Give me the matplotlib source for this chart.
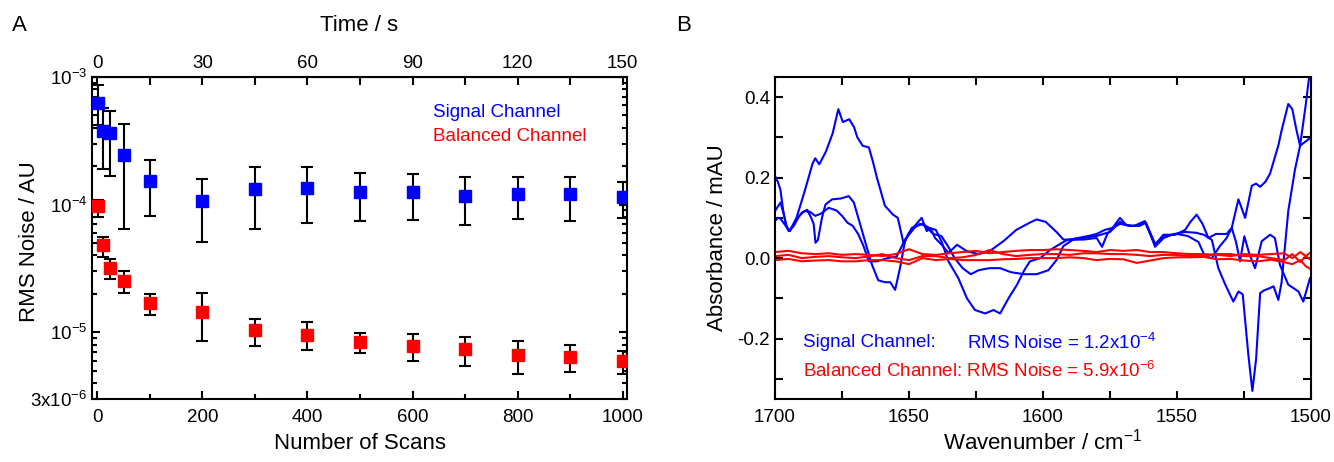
import numpy as np
import matplotlib.pyplot as plt
from matplotlib.ticker import FixedLocator, MultipleLocator, NullFormatter

plt.rcParams['font.family'] = ['Liberation Sans', 'DejaVu Sans']
plt.rcParams['mathtext.fontset'] = 'custom'
plt.rcParams['mathtext.rm'] = 'Liberation Sans'
plt.rcParams['mathtext.it'] = 'Liberation Sans'

# ---- panel A data: RMS noise vs number of scans ----
scans = [1, 10, 25, 50, 100, 200, 300, 400, 500, 600, 700, 800, 900, 1000]
sig_noise = [6.3e-4, 3.8e-4, 3.62e-4, 2.45e-4, 1.53e-4, 1.06e-4, 1.32e-4, 1.34e-4,
             1.26e-4, 1.26e-4, 1.17e-4, 1.22e-4, 1.22e-4, 1.15e-4]
sig_hi = [8.7e-4, 5.7e-4, 5.4e-4, 4.28e-4, 2.24e-4, 1.59e-4, 1.98e-4, 1.96e-4,
          1.77e-4, 1.74e-4, 1.66e-4, 1.64e-4, 1.66e-4, 1.50e-4]
sig_lo = [4.2e-4, 1.9e-4, 1.69e-4, 6.4e-5, 8.1e-5, 5.06e-5, 6.4e-5, 7.2e-5,
          7.5e-5, 7.6e-5, 6.9e-5, 7.7e-5, 7.5e-5, 7.8e-5]
bal_noise = [9.75e-5, 4.82e-5, 3.2e-5, 2.54e-5, 1.69e-5, 1.45e-5, 1.04e-5, 9.57e-6,
             8.43e-6, 7.8e-6, 7.35e-6, 6.6e-6, 6.4e-6, 5.9e-6]
bal_hi = [1.09e-4, 5.6e-5, 3.73e-5, 3.02e-5, 1.99e-5, 2.02e-5, 1.28e-5, 1.21e-5,
          9.9e-6, 9.7e-6, 9.1e-6, 8.5e-6, 7.9e-6, 7.1e-6]
bal_lo = [8.0e-5, 3.9e-5, 2.6e-5, 2.02e-5, 1.36e-5, 8.5e-6, 7.8e-6, 7.2e-6,
          6.9e-6, 5.9e-6, 5.4e-6, 4.7e-6, 4.9e-6, 4.7e-6]
sec_per_scan = 0.15

# ---- panel B data: absorbance spectra (wavenumber, mAU) ----
blue1_wn = [1700, 1698, 1697, 1695.5, 1694.5, 1692, 1689, 1686, 1685, 1683.5, 1681, 1678.5,
            1676.4, 1674.7, 1672.3, 1670.5, 1669.3, 1667.3, 1665, 1663.5, 1662, 1659, 1656,
            1654.2, 1652, 1650.3, 1648, 1645.3, 1643.4, 1642, 1640.3, 1637.8, 1635.3, 1632.1,
            1628.4, 1624, 1620, 1614.8, 1610, 1605, 1602.4, 1599, 1595, 1592.4, 1589, 1585,
            1580, 1578, 1576, 1573.5, 1571.3, 1569, 1566, 1562, 1560, 1558.2, 1555.1, 1550.7,
            1547, 1545, 1542.7, 1540.5, 1538.3, 1535.5, 1531.5, 1529.6, 1528, 1526.5, 1524.9,
            1523, 1520.9, 1518.4, 1515.3, 1513.5, 1511.6, 1508.5, 1504.7, 1502.9, 1500.4]
blue1_abs = [0.117, 0.138, 0.115, 0.075, 0.068, 0.10, 0.165, 0.235, 0.248, 0.233, 0.265, 0.31,
             0.37, 0.338, 0.345, 0.325, 0.30, 0.279, 0.275, 0.24, 0.20, 0.13, 0.108,
             0.10, 0.035, 0.06, 0.079, 0.10, 0.067, 0.075, 0.05, 0.033, 0.013, 0.033,
             0.017, 0.01, 0.017, 0.042, 0.07, 0.088, 0.096, 0.09, 0.065, 0.046, 0.046, 0.046,
             0.05, 0.028, 0.06, 0.08, 0.10, 0.082, 0.08, 0.092, 0.06, 0.033, 0.058, 0.058,
             0.07, 0.09, 0.108, 0.085, 0.05, 0.06, 0.06, 0.075, 0.04, -0.008, 0.054,
             0.01, -0.025, 0.042, 0.058, 0.05, -0.017, -0.066, -0.083, -0.108, -0.05]

blue2_wn = [1700, 1699, 1698, 1696, 1694.5, 1692.5, 1690, 1688, 1686.5, 1685.6, 1684.9, 1684,
            1682.5, 1681.2, 1678.7, 1675.5, 1672.5, 1670.6, 1668.2, 1665.7, 1663.8, 1661.5,
            1659, 1657, 1655.2, 1653.4, 1651.5, 1649, 1647, 1645, 1642.5, 1640, 1637.8, 1635.3,
            1631.6, 1628.4, 1625.4, 1621.6, 1618.5, 1616, 1612.9, 1609.8, 1607, 1604.9, 1601,
            1597.4, 1593.7, 1591, 1587, 1583, 1580, 1577, 1574, 1571.3, 1567, 1564, 1562, 1560,
            1558.2, 1555, 1551, 1547, 1543, 1540, 1537, 1534.6, 1532, 1529, 1527.1, 1525.5,
            1523.4, 1521.9, 1520.5, 1519, 1517.5, 1515.5, 1514, 1512.2, 1511, 1508.5, 1506,
            1504.1, 1502, 1500]
blue2_abs = [0.092, 0.10, 0.098, 0.08, 0.067, 0.09, 0.113, 0.12, 0.10, 0.085, 0.038, 0.045,
             0.10, 0.133, 0.146, 0.148, 0.154, 0.138, 0.083, 0.025, -0.017, -0.055,
             -0.06, -0.06, -0.079, -0.025, 0.042, 0.075, 0.08, 0.085, 0.075, 0.07, 0.04, -0.008,
             -0.05, -0.10, -0.129, -0.1375, -0.129, -0.1375, -0.10, -0.067, -0.03, -0.008, 0.0,
             0.02, 0.035, 0.045, 0.05, 0.055, 0.06, 0.07, 0.075, 0.085, 0.08, 0.082, 0.09, 0.06,
             0.028, 0.05, 0.06, 0.065, 0.063, 0.058, 0.045, -0.025, -0.066, -0.108, -0.083, -0.09,
             -0.24, -0.33, -0.25, -0.087, -0.08, -0.075, -0.07, -0.104, -0.06, 0.117, 0.22,
             0.279, 0.38, 0.49]

blue3_wn = [1700, 1699, 1698, 1697, 1696, 1694.9, 1693, 1691, 1689, 1687, 1685, 1683, 1680,
            1677, 1675, 1673, 1671, 1669, 1667, 1665, 1662, 1658, 1654.6, 1651.5, 1648, 1646,
            1644, 1641, 1638, 1635.5, 1633, 1630, 1627, 1624, 1620, 1616, 1612, 1607, 1602.4,
            1598, 1595, 1592.4, 1589, 1585, 1580, 1577.5, 1575, 1571.3, 1568, 1564, 1561.6,
            1558.2, 1555, 1550, 1546, 1542, 1539.6, 1537, 1534, 1531.5, 1529.6, 1527.1, 1524.6,
            1522.1, 1520.5, 1519, 1517, 1515.3, 1512.2, 1511, 1508.5, 1507, 1505.5, 1504.1,
            1502, 1500]
blue3_abs = [0.204, 0.19, 0.17, 0.12, 0.083, 0.067, 0.08, 0.105, 0.117, 0.115, 0.105, 0.11, 0.125,
             0.118, 0.105, 0.088, 0.08, 0.06, 0.03, -0.008, -0.008, 0.0, 0.004, 0.046, 0.075, 0.085,
             0.08, 0.06, 0.055, 0.03, 0.0, -0.025, -0.04, -0.03, -0.025, -0.025, -0.035, -0.04, -0.04,
             -0.03, -0.005, 0.03, 0.045, 0.05, 0.055, 0.06, 0.065, 0.09, 0.08, 0.08, 0.088,
             0.035, 0.055, 0.06, 0.055, 0.04, 0.004, 0.0, 0.03, 0.05, 0.075, 0.146, 0.10,
             0.18, 0.185, 0.177, 0.19, 0.21, 0.28, 0.317, 0.383, 0.37, 0.32, 0.279,
             0.29, 0.30]

red_wn = [1700, 1695, 1690, 1685, 1680, 1675, 1670, 1665, 1660, 1655, 1650, 1645, 1640, 1635,
          1630, 1625, 1620, 1615, 1610, 1605, 1600, 1595, 1590, 1585, 1580, 1575, 1570, 1565,
          1560, 1555, 1550, 1545, 1540, 1535, 1530, 1525, 1520, 1515, 1510, 1507, 1504, 1502, 1500]
red1_abs = [0.015, 0.018, 0.012, 0.01, 0.012, 0.008, 0.01, 0.008, 0.005, 0.01, 0.022, 0.01,
            0.008, 0.012, 0.015, 0.018, 0.012, 0.015, 0.018, 0.02, 0.02, 0.022, 0.02, 0.018,
            0.015, 0.02, 0.018, 0.02, 0.015, 0.015, 0.012, 0.01, 0.01, 0.008, 0.005, 0.01,
            0.008, 0.01, 0.012, 0.0, 0.015, 0.005, 0.015]
red2_abs = [0.005, 0.008, 0.0, 0.003, 0.005, 0.002, 0.0, 0.004, 0.01, 0.0, -0.005, 0.005,
            0.005, 0.0, 0.002, 0.008, 0.02, 0.01, 0.005, 0.008, 0.01, 0.01, 0.008, 0.012,
            0.012, 0.01, 0.01, 0.008, 0.005, 0.008, 0.008, 0.005, 0.005, 0.01, 0.01, 0.005,
            0.005, 0.0, -0.005, 0.01, -0.01, 0.005, -0.005]
red3_abs = [-0.005, -0.002, -0.008, -0.006, -0.005, -0.008, -0.008, -0.005, -0.005, -0.008,
            -0.015, 0.0, -0.005, -0.002, -0.005, -0.005, -0.005, -0.003, -0.002, 0.0, 0.0,
            0.0, 0.002, 0.0, -0.005, -0.002, -0.003, -0.012, -0.006, 0.0, 0.002, 0.002,
            0.003, -0.003, -0.002, -0.006, -0.008, -0.004, -0.01, -0.015, -0.005, -0.02, -0.028]


fig = plt.figure(figsize=(13.34, 4.62), dpi=100)
axA = fig.add_axes([0.069, 0.1364, 0.401, 0.697])
axB = fig.add_axes([0.581, 0.1364, 0.4018, 0.697])

tick_fs = 13.5
label_fs = 16

# ---------- panel A ----------
axA.errorbar(scans, sig_noise,
             yerr=[np.array(sig_noise) - np.array(sig_lo), np.array(sig_hi) - np.array(sig_noise)],
             fmt='none', ecolor='black', elinewidth=1.5, capsize=4, capthick=1.5, zorder=2)
axA.errorbar(scans, bal_noise,
             yerr=[np.array(bal_noise) - np.array(bal_lo), np.array(bal_hi) - np.array(bal_noise)],
             fmt='none', ecolor='black', elinewidth=1.5, capsize=4, capthick=1.5, zorder=2)
axA.plot(scans, sig_noise, 's', color='#0000ff', ms=8.5, zorder=3)
axA.plot(scans, bal_noise, 's', color='#ff0000', ms=8.5, zorder=3)
axA.set_yscale('log')
axA.set_ylim(3e-6, 1e-3)
axA.set_xlim(-10, 1008)
axA.yaxis.set_major_locator(FixedLocator([3e-6, 1e-5, 1e-4, 1e-3]))
axA.set_yticklabels(['3x10$^{-6}$', '10$^{-5}$', '10$^{-4}$', '10$^{-3}$'])
minors = [m * 10.0 ** e for e in (-6, -5, -4) for m in range(2, 10) if m * 10.0 ** e > 3e-6]
axA.yaxis.set_minor_locator(FixedLocator(minors))
axA.yaxis.set_minor_formatter(NullFormatter())
axA.xaxis.set_major_locator(MultipleLocator(200))
axA.xaxis.set_minor_locator(MultipleLocator(100))
axA.tick_params(which='both', direction='in', right=True, labelsize=tick_fs, width=1.5)
axA.tick_params(which='major', length=6)
axA.tick_params(which='minor', length=3.5)
axA.tick_params(axis='x', pad=7)
axA.set_xlabel('Number of Scans', fontsize=label_fs, labelpad=5)
axA.set_ylabel('RMS Noise / AU', fontsize=label_fs)
axA.yaxis.set_label_coords(-0.097, 0.49)

top = axA.secondary_xaxis('top', functions=(lambda x: x * sec_per_scan, lambda t: t / sec_per_scan))
top.xaxis.set_major_locator(MultipleLocator(30))
top.xaxis.set_minor_locator(MultipleLocator(15))
top.tick_params(which='both', direction='in', labelsize=tick_fs, width=1.5)
top.tick_params(which='major', length=6)
top.tick_params(which='minor', length=6)
top.set_xlabel('Time / s', fontsize=label_fs, labelpad=17)

axA.text(0.637, 0.891, 'Signal Channel', color='#0000ff', fontsize=tick_fs, transform=axA.transAxes, va='center')
axA.text(0.637, 0.814, 'Balanced Channel', color='#ff0000', fontsize=tick_fs, transform=axA.transAxes, va='center')

# ---------- panel B ----------
for wn, ab in [(blue1_wn, blue1_abs), (blue2_wn, blue2_abs), (blue3_wn, blue3_abs)]:
    axB.plot(wn, ab, color='#0000ff', lw=1.5)
for ab in (red1_abs, red2_abs, red3_abs):
    axB.plot(red_wn, ab, color='#ff0000', lw=1.5)
axB.set_xlim(1700, 1500)
axB.set_ylim(-0.35, 0.45)
axB.xaxis.set_major_locator(MultipleLocator(50))
axB.xaxis.set_minor_locator(MultipleLocator(25))
axB.yaxis.set_major_locator(FixedLocator([-0.2, 0.0, 0.2, 0.4]))
axB.yaxis.set_minor_locator(MultipleLocator(0.1))
axB.set_yticklabels(['-0.2', '0.0', '0.2', '0.4'])
axB.tick_params(which='both', direction='in', right=True, top=True, labelsize=tick_fs, width=1.5)
axB.tick_params(which='major', length=6)
axB.tick_params(which='minor', length=6)
axB.tick_params(axis='x', pad=7)
axB.set_xlabel('Wavenumber / cm$^{-1}$', fontsize=label_fs, labelpad=2)
axB.set_ylabel('Absorbance / mAU', fontsize=label_fs)
axB.yaxis.set_label_coords(-0.088, 0.5)

axB.text(0.052, 0.174, 'Signal Channel:', color='#0000ff', fontsize=tick_fs, transform=axB.transAxes, va='center')
axB.text(0.358, 0.174, 'RMS Noise = 1.2x10$^{-4}$', color='#0000ff', fontsize=tick_fs, transform=axB.transAxes, va='center')
axB.text(0.052, 0.087, 'Balanced Channel: RMS Noise = 5.9x10$^{-6}$', color='#ff0000', fontsize=tick_fs,
         transform=axB.transAxes, va='center')

for ax in (axA, axB):
    for s in ax.spines.values():
        s.set_linewidth(1.5)

fig.text(0.009, 0.945, 'A', fontsize=label_fs, va='center')
fig.text(0.507, 0.945, 'B', fontsize=label_fs, va='center')

fig.savefig('out.png', dpi=100)
